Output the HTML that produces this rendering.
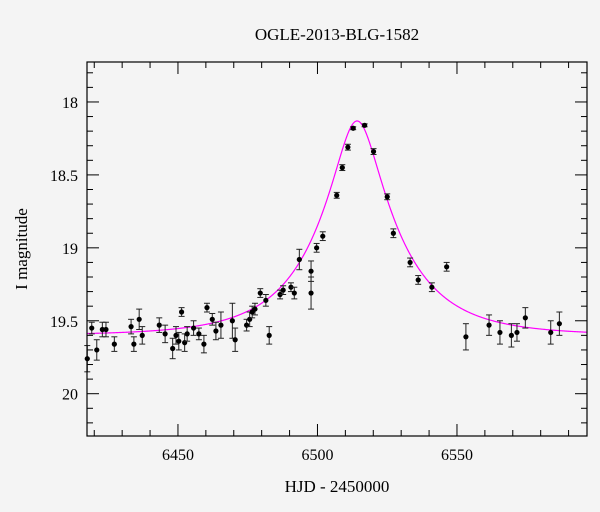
<!DOCTYPE html>
<html><head><meta charset="utf-8">
<style>
html,body{margin:0;padding:0;background:#f4f4f4;}
svg{display:block;font-family:"Liberation Serif","DejaVu Serif",serif;}
</style></head>
<body>
<svg id="chart" width="600" height="512">
<rect x="0" y="0" width="600" height="512" fill="#f4f4f4"/>
<text x="337" y="40" font-size="17" text-anchor="middle">OGLE-2013-BLG-1582</text>
<text x="337" y="492" font-size="17" text-anchor="middle">HJD - 2450000</text>
<text transform="translate(27,249) rotate(-90)" font-size="17" text-anchor="middle">I magnitude</text>
<g id="axes"></g>
<g id="curve"></g>
<g id="points"></g>
<rect x="87" y="62" width="500" height="374" fill="none" stroke="#000" stroke-width="1.2"/>
</svg>
<script>
const hjd = [6417.5,6419.1,6420.9,6422.9,6424.2,6427.2,6433.2,6434.2,6436.1,6437.2,6443.3,6445.4,6448.1,6449.3,6450.3,6451.3,6452.4,6453.3,6455.6,6457.5,6459.3,6460.4,6462.3,6463.6,6465.4,6469.5,6470.5,6474.6,6475.7,6476.6,6477.6,6479.5,6481.5,6482.7,6486.6,6487.7,6490.5,6491.7,6493.5,6497.7,6497.7,6499.7,6501.9,6506.9,6508.9,6510.9,6512.8,6516.9,6520.1,6525.0,6527.2,6533.2,6536.1,6541.0,6546.3,6553.2,6561.5,6565.4,6569.5,6571.5,6574.5,6583.6,6586.7];
const mag = [19.76,19.55,19.70,19.56,19.56,19.66,19.54,19.66,19.49,19.60,19.53,19.59,19.69,19.60,19.64,19.44,19.65,19.59,19.55,19.59,19.66,19.41,19.49,19.57,19.53,19.50,19.63,19.53,19.49,19.44,19.42,19.31,19.36,19.60,19.32,19.29,19.27,19.31,19.08,19.16,19.31,19.00,18.92,18.64,18.45,18.31,18.18,18.16,18.34,18.65,18.90,19.10,19.22,19.27,19.13,19.61,19.53,19.58,19.60,19.58,19.48,19.58,19.52];
const magErr = [0.09,0.04,0.07,0.05,0.05,0.05,0.05,0.05,0.07,0.06,0.05,0.06,0.07,0.06,0.06,0.03,0.06,0.05,0.05,0.04,0.06,0.03,0.04,0.06,0.09,0.12,0.08,0.04,0.05,0.04,0.04,0.03,0.04,0.06,0.03,0.03,0.03,0.04,0.07,0.07,0.11,0.03,0.03,0.02,0.02,0.02,0.01,0.01,0.02,0.02,0.03,0.03,0.03,0.03,0.03,0.09,0.07,0.08,0.08,0.06,0.07,0.08,0.08];
const xTicks = [6450,6500,6550];
const yTicks = [18,18.5,19,19.5,20];
const yTickLabels = ["18","18.5","19","19.5","20"];
const modelT0 = [6514.2];
const modelU0 = [0.265];
const modelTE = [29];
const modelBase = [19.6];

const X0=87,X1=587,Y0=62,Y1=436;
const xMin=6417.4,xMax=6596.6,yMin=17.726,yMax=20.29;
const sx=t=>X0+(t-xMin)/(xMax-xMin)*(X1-X0);
const sy=m=>Y0+(m-yMin)/(yMax-yMin)*(Y1-Y0);
const NS="http://www.w3.org/2000/svg";
function mk(tag,attrs,parent){const e=document.createElementNS(NS,tag);for(const k in attrs)e.setAttribute(k,attrs[k]);parent.appendChild(e);return e;}

const axes=document.getElementById('axes');
for(let t=6420;t<=6590;t+=10){
  const major = xTicks.includes(t);
  const L = major?12:6;
  const x=sx(t);
  const a=mk('line',{x1:x,x2:x,y1:Y1,y2:Y1-L,stroke:'#000','stroke-width':1},axes);
  
  
  const b=mk('line',{x1:x,x2:x,y1:Y0,y2:Y0+L,stroke:'#000','stroke-width':1},axes);
  
  
}
xTicks.forEach(t=>{
  const tx=mk('text',{x:sx(t),y:Y1+24,'font-size':16,'text-anchor':'middle'},axes);
  tx.textContent=t;
  
  
});
for(let i=18;i<=202;i++){
  const m=i/10;
  if(m<yMin||m>yMax) continue;
  const major = (i%5===0);
  const L = major?12:6;
  const y=sy(m);
  const a=mk('line',{x1:X0,x2:X0+L,y1:y,y2:y,stroke:'#000','stroke-width':1},axes);
  
  
  const b=mk('line',{x1:X1,x2:X1-L,y1:y,y2:y,stroke:'#000','stroke-width':1},axes);
  
  
}
yTicks.forEach((m,i)=>{
  const tx=mk('text',{x:X0-9,y:sy(m)+6,'font-size':16,'text-anchor':'end'},axes);
  tx.textContent=yTickLabels[i];
  
  
});

function model(t){
  const u0=modelU0[0],tE=modelTE[0];
  const tau=(t-modelT0[0])/tE;
  const u=Math.sqrt(u0*u0+tau*tau);
  const A=(u*u+2)/(u*Math.sqrt(u*u+4));
  return modelBase[0]-2.5*Math.log10(A);
}
let d='';
for(let px=X0;px<=X1;px+=0.5){
  const t=xMin+(px-X0)/(X1-X0)*(xMax-xMin);
  d+=(d?'L':'M')+px.toFixed(1)+','+sy(model(t)).toFixed(2);
}
const cg=document.getElementById('curve');
const cp=mk('path',{d:d,fill:'none',stroke:'#ff00ff','stroke-width':1.2},cg);



const pg=document.getElementById('points');
hjd.forEach((t,i)=>{
  const x=sx(t),y=sy(mag[i]);
  const y1=sy(mag[i]-magErr[i]),y2=sy(mag[i]+magErr[i]);
  const g=mk('g',{},pg);
  
  
  mk('line',{x1:x,x2:x,y1:y1,y2:y2,stroke:'#222','stroke-width':1},g);
  mk('line',{x1:x-3,x2:x+3,y1:y1,y2:y1,stroke:'#222','stroke-width':1},g);
  mk('line',{x1:x-3,x2:x+3,y1:y2,y2:y2,stroke:'#222','stroke-width':1},g);
  mk('circle',{cx:x,cy:y,r:2.6,fill:'#000'},g);
});
</script>
</body></html>
